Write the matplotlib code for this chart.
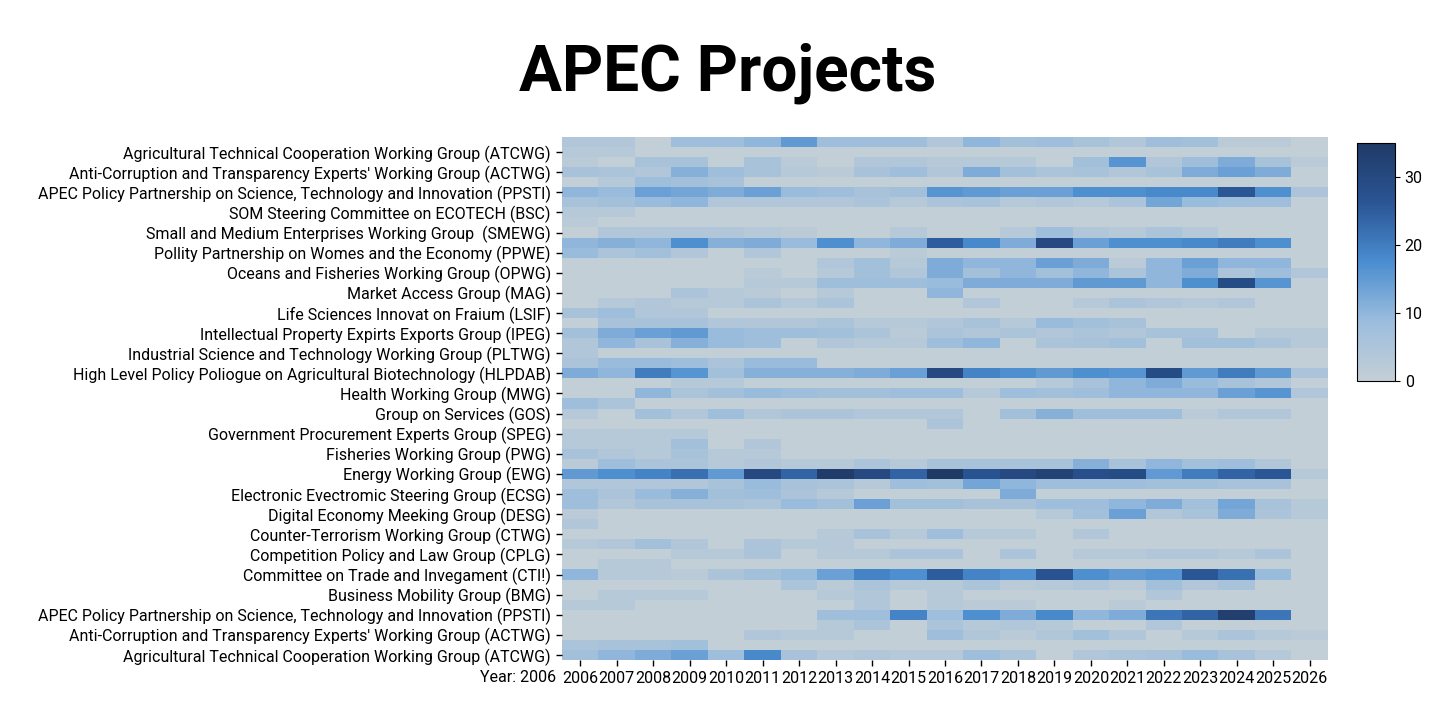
import matplotlib
matplotlib.use("Agg")
import matplotlib.pyplot as plt
import numpy as np
from matplotlib.colors import LinearSegmentedColormap

plt.rcParams["font.family"] = ["Roboto", "DejaVu Sans"]

years = list(range(2006, 2027))
groups = [
    "Agricultural Technical Cooperation Working Group (ATCWG)",
    "Anti-Corruption and Transparency Experts' Working Group (ACTWG)",
    "APEC Policy Partnership on Science, Technology and Innovation (PPSTI)",
    "SOM Steering Committee on ECOTECH (BSC)",
    "Small and Medium Enterprises Working Group  (SMEWG)",
    "Pollity Partnership on Womes and the Economy (PPWE)",
    "Oceans and Fisheries Working Group (OPWG)",
    "Market Access Group (MAG)",
    "Life Sciences Innovat on Fraium (LSIF)",
    "Intellectual Property Expirts Exports Group (IPEG)",
    "Industrial Science and Technology Working Group (PLTWG)",
    "High Level Policy Poliogue on Agricultural Biotechnology (HLPDAB)",
    "Health Working Group (MWG)",
    "Group on Services (GOS)",
    "Government Procurement Experts Group (SPEG)",
    "Fisheries Working Group (PWG)",
    "Energy Working Group (EWG)",
    "Electronic Evectromic Steering Group (ECSG)",
    "Digital Economy Meeking Group (DESG)",
    "Counter-Terrorism Working Group (CTWG)",
    "Competition Policy and Law Group (CPLG)",
    "Committee on Trade and Invegament (CTI!)",
    "Business Mobility Group (BMG)",
    "APEC Policy Partnership on Science, Technology and Innovation (PPSTI)",
    "Anti-Corruption and Transparency Experts' Working Group (ACTWG)",
    "Agricultural Technical Cooperation Working Group (ATCWG)",
]

# project counts, two sub-rows per group, top to bottom, columns 2006..2026
counts = [
    [4, 4, 0, 8, 8, 10, 15, 8, 8, 8, 4, 10, 7, 8, 6, 4, 8, 7, 2, 2, 0],
    [3, 3, 0, 0, 0, 0, 0, 0, 0, 0, 0, 0, 0, 0, 0, 0, 0, 0, 0, 0, 0],
    [2, 0, 6, 6, 0, 6, 2, 0, 4, 4, 3, 3, 3, 0, 7, 16, 4, 8, 12, 6, 2],
    [6, 5, 4, 11, 8, 6, 3, 2, 6, 8, 4, 12, 7, 5, 6, 4, 6, 12, 14, 12, 0],
    [0, 3, 8, 7, 6, 0, 0, 0, 0, 0, 0, 0, 0, 0, 0, 0, 0, 0, 0, 0, 0],
    [10, 9, 14, 13, 12, 14, 9, 8, 6, 7, 16, 15, 14, 14, 17, 17, 18, 18, 26, 17, 5],
    [6, 7, 9, 10, 4, 4, 4, 4, 5, 3, 5, 6, 3, 4, 3, 5, 13, 9, 8, 8, 0],
    [3, 3, 0, 0, 0, 0, 0, 0, 0, 0, 0, 0, 0, 0, 0, 0, 0, 0, 0, 0, 0],
    [2, 0, 0, 0, 0, 0, 0, 0, 0, 0, 0, 0, 0, 0, 0, 0, 0, 0, 0, 0, 0],
    [0, 4, 4, 4, 4, 3, 2, 0, 0, 3, 0, 0, 3, 8, 4, 3, 5, 3, 0, 0, 0],
    [10, 11, 10, 17, 11, 12, 9, 17, 10, 12, 25, 18, 12, 30, 14, 17, 17, 18, 20, 17, 0],
    [9, 5, 7, 4, 0, 4, 0, 0, 0, 2, 0, 0, 0, 0, 0, 0, 0, 0, 0, 0, 0],
    [0, 0, 0, 0, 0, 0, 0, 4, 7, 3, 12, 10, 10, 14, 12, 2, 10, 14, 10, 10, 0],
    [0, 0, 0, 0, 0, 2, 0, 3, 7, 4, 12, 7, 10, 7, 10, 5, 10, 12, 5, 8, 4],
    [0, 0, 0, 0, 0, 3, 3, 8, 8, 8, 9, 12, 12, 12, 15, 15, 10, 17, 29, 16, 0],
    [0, 0, 0, 5, 3, 2, 0, 3, 0, 0, 10, 0, 0, 0, 0, 0, 0, 0, 0, 0, 0],
    [0, 3, 4, 3, 3, 5, 3, 5, 0, 0, 0, 4, 0, 0, 3, 5, 4, 3, 4, 0, 0],
    [6, 8, 4, 4, 0, 0, 0, 0, 0, 0, 0, 0, 0, 0, 0, 0, 0, 0, 0, 0, 0],
    [0, 6, 6, 6, 4, 4, 4, 5, 3, 3, 4, 6, 3, 9, 7, 6, 0, 0, 0, 0, 0],
    [7, 12, 14, 15, 9, 8, 8, 7, 5, 2, 5, 4, 5, 4, 5, 4, 6, 6, 0, 3, 3],
    [4, 10, 6, 11, 9, 8, 0, 4, 3, 3, 8, 10, 0, 5, 6, 7, 0, 7, 7, 5, 3],
    [4, 0, 0, 0, 0, 0, 0, 0, 0, 0, 0, 0, 0, 0, 0, 0, 0, 0, 0, 0, 0],
    [5, 9, 9, 8, 5, 9, 9, 0, 0, 0, 0, 0, 0, 0, 0, 0, 0, 0, 0, 0, 0],
    [12, 10, 20, 16, 7, 11, 11, 11, 12, 14, 30, 19, 17, 15, 17, 16, 29, 15, 20, 15, 5],
    [0, 0, 0, 3, 3, 0, 0, 0, 0, 0, 0, 0, 0, 3, 6, 10, 12, 9, 6, 4, 0],
    [0, 0, 10, 5, 7, 9, 8, 7, 7, 8, 8, 3, 8, 7, 8, 10, 10, 10, 14, 16, 4],
    [8, 5, 0, 0, 0, 0, 0, 0, 0, 0, 0, 0, 0, 0, 0, 0, 0, 0, 0, 0, 0],
    [3, 0, 7, 4, 8, 4, 5, 5, 4, 4, 4, 0, 7, 11, 8, 8, 8, 2, 4, 4, 0],
    [0, 0, 0, 0, 0, 0, 0, 0, 0, 0, 5, 0, 0, 0, 0, 0, 0, 0, 0, 0, 0],
    [3, 3, 3, 3, 0, 0, 0, 0, 0, 0, 0, 0, 0, 0, 0, 0, 0, 0, 0, 0, 0],
    [3, 3, 3, 7, 0, 4, 0, 0, 0, 0, 0, 0, 0, 0, 0, 0, 0, 0, 0, 0, 0],
    [6, 4, 3, 6, 3, 3, 0, 0, 0, 0, 0, 0, 0, 0, 0, 0, 0, 0, 0, 0, 0],
    [2, 8, 5, 5, 3, 4, 3, 3, 5, 3, 6, 6, 6, 6, 11, 6, 10, 7, 8, 4, 0],
    [15, 17, 19, 22, 15, 30, 24, 34, 30, 24, 35, 27, 30, 32, 28, 29, 15, 20, 24, 26, 3],
    [4, 4, 4, 4, 6, 9, 6, 5, 3, 8, 7, 13, 10, 8, 8, 8, 7, 7, 6, 6, 0],
    [8, 5, 9, 11, 7, 8, 5, 3, 0, 0, 0, 0, 12, 0, 0, 0, 0, 0, 0, 0, 0],
    [8, 4, 6, 6, 6, 5, 9, 7, 14, 7, 7, 6, 6, 8, 8, 10, 12, 7, 13, 6, 3],
    [2, 0, 0, 0, 0, 0, 0, 0, 0, 0, 0, 0, 0, 3, 7, 14, 4, 6, 12, 5, 3],
    [4, 0, 0, 0, 0, 0, 0, 0, 0, 0, 0, 0, 0, 0, 0, 0, 0, 0, 0, 0, 0],
    [0, 0, 0, 0, 0, 0, 0, 3, 6, 3, 8, 3, 3, 0, 4, 0, 0, 0, 0, 0, 0],
    [3, 4, 7, 4, 0, 5, 3, 3, 0, 0, 0, 0, 0, 0, 0, 0, 0, 0, 0, 0, 0],
    [0, 0, 0, 3, 3, 5, 0, 3, 3, 5, 5, 0, 5, 0, 3, 3, 4, 4, 3, 5, 0],
    [0, 3, 3, 0, 0, 0, 0, 0, 0, 0, 0, 0, 0, 0, 0, 0, 0, 0, 0, 0, 0],
    [10, 3, 3, 2, 5, 7, 9, 14, 19, 17, 25, 19, 17, 27, 17, 15, 16, 26, 22, 9, 0],
    [0, 0, 0, 0, 0, 0, 5, 2, 5, 3, 3, 5, 2, 3, 4, 2, 7, 4, 6, 0, 0],
    [0, 3, 3, 3, 0, 0, 0, 3, 4, 0, 3, 0, 0, 0, 0, 0, 4, 0, 0, 0, 0],
    [3, 3, 0, 0, 0, 0, 0, 0, 4, 0, 3, 2, 2, 0, 0, 2, 0, 0, 0, 0, 0],
    [0, 0, 0, 0, 0, 0, 0, 8, 8, 19, 8, 17, 12, 18, 10, 12, 21, 24, 33, 21, 0],
    [0, 0, 0, 0, 0, 0, 0, 3, 5, 0, 5, 3, 4, 3, 0, 0, 4, 0, 0, 0, 0],
    [0, 0, 0, 0, 0, 4, 3, 3, 0, 0, 8, 4, 2, 4, 7, 4, 0, 3, 5, 3, 2],
    [5, 6, 6, 7, 0, 0, 0, 0, 0, 0, 0, 0, 0, 0, 0, 0, 0, 0, 0, 0, 0],
    [7, 10, 12, 14, 8, 18, 6, 3, 4, 3, 3, 8, 5, 0, 4, 5, 6, 9, 6, 3, 0],
]

data = np.array(counts, dtype=float)
cmap = LinearSegmentedColormap.from_list(
    "apec", ["#c3cfd6", "#9cbddd", "#4a8dd0", "#2a5595", "#203a66"])

fig = plt.figure(figsize=(14.56, 7.2), dpi=100)
ax = fig.add_axes([562 / 1456, 1 - 660 / 720, 766 / 1456, 523 / 720])
im = ax.imshow(data, aspect="auto", cmap=cmap, vmin=0, vmax=35,
               interpolation="nearest")

ax.set_yticks(np.arange(1, data.shape[0], 2))
ax.set_yticklabels(groups, fontsize=11.5)
ax.set_xticks(np.arange(len(years)))
ax.set_xticklabels([str(y) for y in years], fontsize=11.5)
ax.tick_params(length=4, width=1, pad=4)
for s in ax.spines.values():
    s.set_visible(False)

fig.text(518 / 1456, 1 - 678 / 720, "Year: 2006", fontsize=11.5,
         ha="center", va="center")
fig.text(0.5, 1 - 73 / 720, "APEC Projects", fontsize=46,
         fontweight="bold", ha="center", va="center")

cax = fig.add_axes([1357 / 1456, 1 - 381 / 720, 38 / 1456, 238 / 720])
cb = fig.colorbar(im, cax=cax, ticks=[0, 10, 20, 30])
cb.ax.tick_params(labelsize=11.5)

fig.savefig("out.png", dpi=100)
